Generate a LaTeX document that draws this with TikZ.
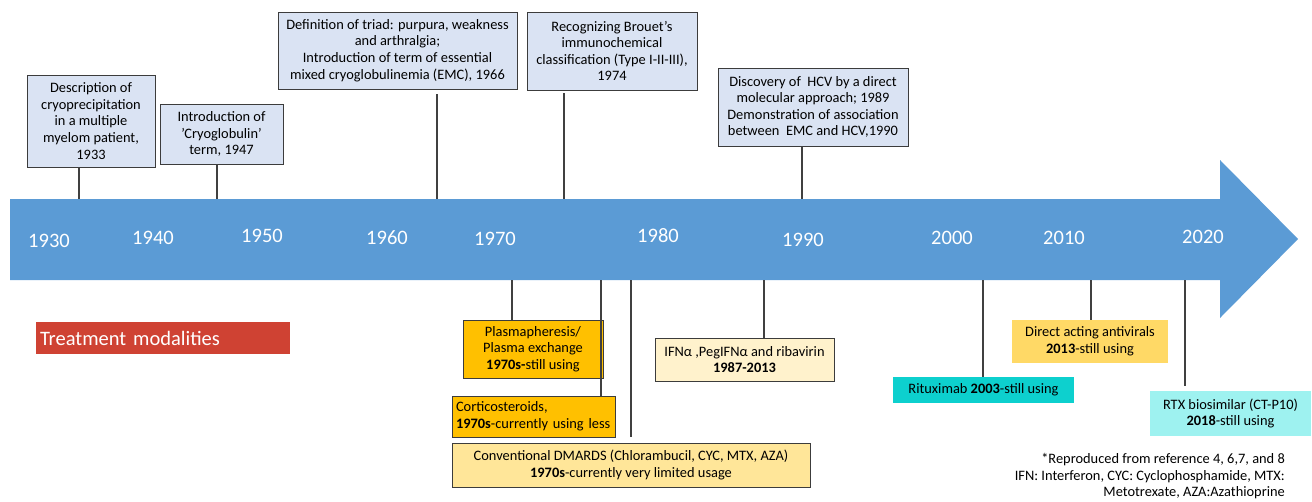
\documentclass[tikz,border=0pt]{standalone}
\usepackage{fontspec}
\setmainfont{Carlito}
\usepackage{tikz}
\usepackage{color}
\definecolor{arrowblue}{HTML}{5B9BD5}
\definecolor{eventblue}{HTML}{DAE3F3}
\definecolor{boxline}{HTML}{3C3C3C}
\definecolor{tickgray}{HTML}{404040}
\definecolor{plasmaorange}{HTML}{FFC000}
\definecolor{dmardyellow}{HTML}{FFE699}
\definecolor{ifncream}{HTML}{FFF2CC}
\definecolor{daayellow}{HTML}{FFD966}
\definecolor{rituxteal}{HTML}{0DD0CE}
\definecolor{rtxcyan}{HTML}{9EF2F0}
\definecolor{treatred}{HTML}{CF4233}

\begin{document}
\begin{tikzpicture}[x=1pt,y=1pt]
				\tikzstyle{every node}+=[inner sep=0pt, font=\fontsize{14.4}{16.6}\selectfont]
				\tikzstyle{event}=[draw=boxline, line width=0.9pt, fill=eventblue, align=center]
				\tikzstyle{therapy}=[draw=boxline, line width=0.9pt, align=center]
				\tikzstyle{year}=[text=white, font=\fontsize{20.5}{22}\selectfont]
				\tikzstyle{tick}=[draw=tickgray, line width=1.1pt]
				\useasboundingbox (0,0) rectangle (1312,-501);
				% timeline arrow
				\fill [arrowblue] (10,-199) -- (1220,-199) -- (1220,-160) -- (1298,-239) -- (1220,-318) -- (1220,-280) -- (10,-280) -- cycle;
				\draw (49,-241) node [year] (y1930) {1930};
				\draw (153,-238) node [year] (y1940) {1940};
				\draw (262,-236) node [year] (y1950) {1950};
				\draw (387,-238) node [year] (y1960) {1960};
				\draw (495,-239) node [year] (y1970) {1970};
				\draw (658,-236) node [year] (y1980) {1980};
				\draw (803,-240) node [year] (y1990) {1990};
				\draw (952,-238) node [year] (y2000) {2000};
				\draw (1064,-238) node [year] (y2010) {2010};
				\draw (1203,-237) node [year] (y2020) {2020};
				% points on the arrow edges
				\coordinate (a1933) at (79,-199);
				\coordinate (a1947) at (217,-199);
				\coordinate (a1966) at (437,-199);
				\coordinate (a1974) at (564,-199);
				\coordinate (a1990) at (802,-199);
				\coordinate (b1970) at (512,-280);
				\coordinate (b1976) at (601,-280);
				\coordinate (b1979) at (631,-280);
				\coordinate (b1987) at (764,-280);
				\coordinate (b2003) at (983,-280);
				\coordinate (b2013) at (1091,-280);
				\coordinate (b2018) at (1185,-280);
				% history
				\node [event, minimum width=128, minimum height=92] (desc) at (91,-121) {Description of\\cryoprecipitation\\in a multiple\\myelom patient,\\1933};
				\node [event, minimum width=123, minimum height=60] (cryo) at (221.5,-134) {Introduction of\\{\char"0027}Cryoglobulin’\\term, 1947};
				\node [event, minimum width=239, minimum height=77] (triad) at (397.5,-50.5) {Definition of triad: purpura, weakness\\and arthralgia;\\Introduction of term of essential\\mixed cryoglobulinemia (EMC), 1966};
				\node [event, minimum width=170, minimum height=78] (brouet) at (612,-51) {Recognizing Brouet’s\\immunochemical\\classification (Type I-II-III),\\1974};
				\node [event, minimum width=190, minimum height=78] (hcv) at (813,-107) {Discovery of~ HCV by a direct\\molecular approach; 1989\\Demonstration of association\\between~ EMC and HCV,1990};
				\draw [tick] (desc.south -| a1933) -- (a1933);
				\draw [tick] (cryo.south -| a1947) -- (a1947);
				\draw [tick] (triad.south -| a1966) ++(0,-5) -- (a1966);
				\draw [tick] (brouet.south -| a1974) ++(0,-3) -- (a1974);
				\draw [tick] (hcv.south -| a1990) -- (a1990);
				% treatment
				\node [fill=treatred, text=white, minimum width=254, minimum height=32, text width=246, align=left, font=\fontsize{20.5}{22}\selectfont] (treat) at (163,-338) {Treatment modalities};
				\node [therapy, fill=plasmaorange, minimum width=140, minimum height=58] (plasma) at (533,-349) {Plasmapheresis/\\Plasma exchange\\\textbf{1970s-}still using};
				\node [therapy, fill=plasmaorange, minimum width=163, minimum height=41, text width=155, align=left] (cortico) at (533.5,-416.5) {Corticosteroids,\\\textbf{1970s}-currently using less};
				\node [therapy, fill=dmardyellow, minimum width=358, minimum height=44] (dmard) at (631,-465) {Conventional DMARDS (Chlorambucil, CYC, MTX, AZA)\\\textbf{1970s}-currently very limited usage};
				\node [therapy, fill=ifncream, minimum width=179, minimum height=43] (ifn) at (744.5,-359.5) {IFNα ,PegIFNα and ribavirin\\\textbf{1987-2013}};
				\node [fill=rituxteal, minimum width=181, minimum height=26] (ritux) at (983.5,-390) {Rituximab \textbf{2003}-still using};
				\node [fill=daayellow, minimum width=156, minimum height=43, align=center] (daa) at (1090,-341.5) {Direct acting antivirals\\\textbf{2013}-still using};
				\node [fill=rtxcyan, minimum width=161, minimum height=45, align=center] (rtx) at (1230.5,-413.5) {RTX biosimilar (CT-P10)\\\textbf{2018}-still using};
				\draw [tick] (b1970) -- (plasma.north -| b1970);
				\draw [tick] (b1976) -- (cortico.north -| b1976);
				\draw [tick] (b1979) -- (cortico.south -| b1979);
				\draw [tick] (b1987) -- (ifn.north -| b1987) ++(0,2);
				\draw [tick] (b2003) -- (ritux.north -| b2003);
				\draw [tick] (b2013) -- (daa.north -| b2013);
				\draw [tick] (b2018) -- ([yshift=5]rtx.north -| b2018);
				% footnote
				\node [anchor=north east, align=right] (note) at (1285,-453) {*Reproduced from reference 4, 6,7, and 8\\IFN: Interferon, CYC: Cyclophosphamide, MTX:\\Metotrexate, AZA:Azathioprine};
\end{tikzpicture}
\end{document}
